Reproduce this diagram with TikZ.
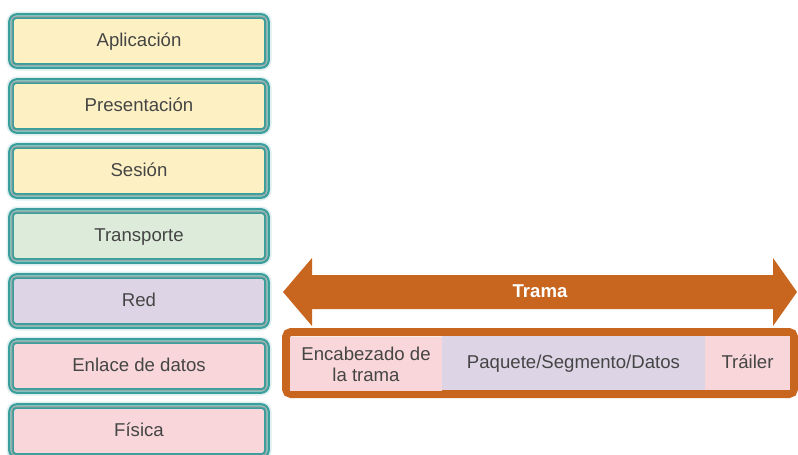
\documentclass[tikz,border=0pt]{standalone}
\usepackage{fontspec}
\setmainfont{Liberation Sans}
\definecolor{tealc}{HTML}{3A9E9C}
\definecolor{tealin}{HTML}{A9D8D4}
\definecolor{glowc}{HTML}{DDEFEF}
\definecolor{yel}{HTML}{FDF1C4}
\definecolor{grn}{HTML}{DDEBDA}
\definecolor{lav}{HTML}{DDD5E6}
\definecolor{pnk}{HTML}{F8D6D9}
\definecolor{orc}{HTML}{C8661F}
\definecolor{txt}{HTML}{454545}
\tikzset{
  layer/.style={rectangle, rounded corners=6pt, minimum width=256pt, minimum height=50pt,
    draw=tealc, line width=5.6pt, text=txt, font=\fontsize{18.6}{21}\selectfont, inner sep=0pt,
    text height=13.5pt, text depth=3.5pt,
    preaction={draw=glowc, line width=9pt},
    postaction={draw=tealin, line width=1.2pt}},
  innerline/.style={draw=gray!75, line width=0.9pt, rounded corners=3pt},
  sect/.style={rectangle, minimum height=54pt, inner sep=0pt, text=txt,
    font=\fontsize{18.6}{21}\selectfont, align=center},
  onel/.style={text height=13.5pt, text depth=3.5pt},
  arrowtxt/.style={text=white, font=\bfseries\fontsize{18.6}{21}\selectfont}
}
\begin{document}
\begin{tikzpicture}[x=1pt,y=-1pt]
\useasboundingbox (0,0) rectangle (798,455);
\clip (0,0) rectangle (798,455);
\fill[white] (0,0) rectangle (798,455);
% layers
\foreach \n/\t/\c [count=\i from 0] in {app/Aplicación/yel, pres/Presentación/yel, ses/Sesión/yel,
  tra/Transporte/grn, red/Red/lav, enl/Enlace de datos/pnk, fis/Física/pnk}{
  \node[layer, fill=\c] (\n) at (139, 41+65*\i) {\t};
  \draw[innerline] ([shift={(3.6,3.6)}]\n.north west) rectangle ([shift={(-3.6,-3.6)}]\n.south east);
}
% arrow
\fill[orc] (283,292) -- (312,258) -- (312,275) -- (773,275) -- (773,258) -- (797,292)
  -- (773,326) -- (773,309) -- (312,309) -- (312,326) -- cycle;
\node[arrowtxt] (trama) at (540,291) {Trama};
% frame
\draw[orc, line width=8pt, rounded corners=5pt] (286,332) rectangle (794,394);
\node[sect, fill=pnk, minimum width=152pt] (hdr) at (366,364) {Encabezado de\\[0pt]la trama};
\node[sect, onel, fill=lav, minimum width=263pt] (pay) at (573.5,363) {Paquete/Segmento/Datos};
\node[sect, onel, fill=pnk, minimum width=85pt] (trl) at (747.5,363) {Tráiler};
\end{tikzpicture}
\end{document}
